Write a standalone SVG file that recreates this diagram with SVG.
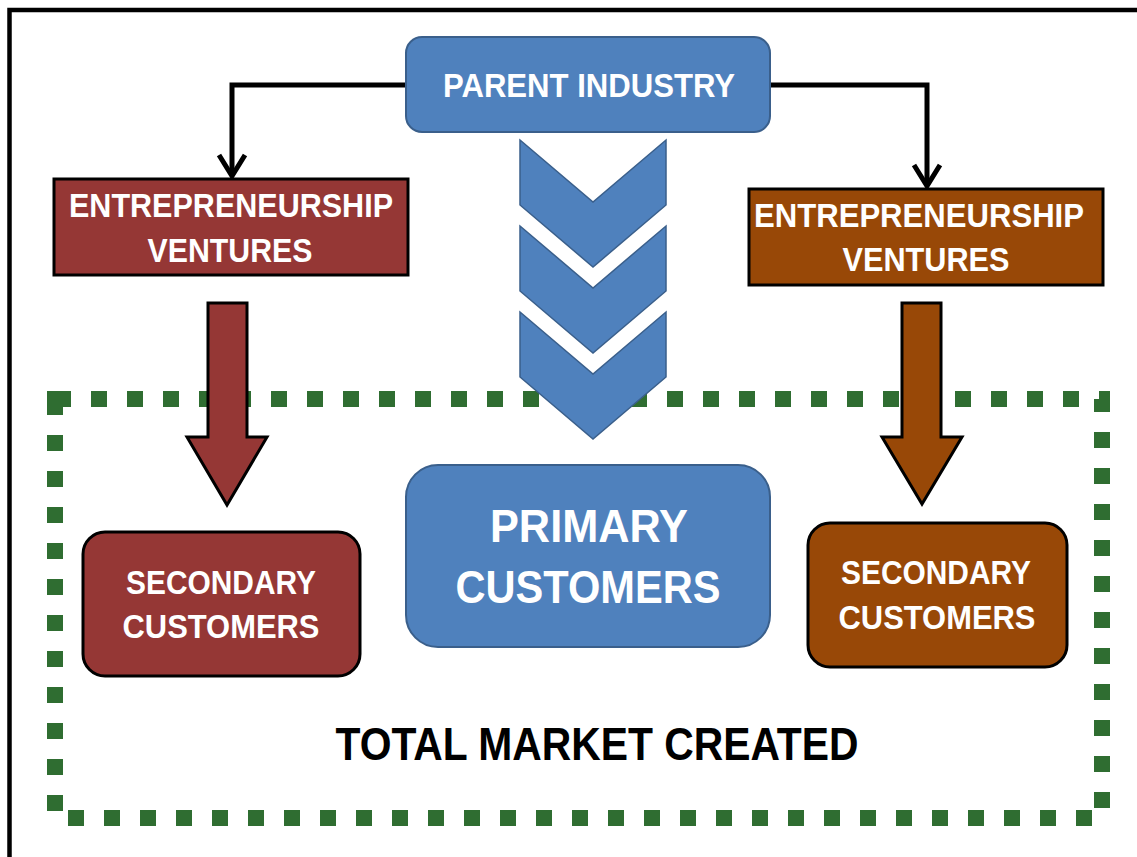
<svg xmlns="http://www.w3.org/2000/svg" width="1137" height="857" viewBox="0 0 1137 857">
<defs>
<style>
.t{font-family:"Liberation Sans",Arial,sans-serif;font-weight:bold;fill:#ffffff;text-anchor:middle}
.tb{font-family:"Liberation Sans",Arial,sans-serif;font-weight:bold;fill:#000000;text-anchor:middle}
.blue{fill:#4F81BD;stroke:#3A5F8B;stroke-width:2}
.red{fill:#953735;stroke:#000;stroke-width:3}
.brown{fill:#984807;stroke:#000;stroke-width:3}
.conn{fill:none;stroke:#000;stroke-width:5}
.chev{fill:#4F81BD;stroke:#3A5F8B;stroke-width:1.5}
</style>
</defs>
<rect x="0" y="0" width="1137" height="857" fill="#ffffff"/>
<rect id="frame" x="9.5" y="10" width="1140" height="860" fill="none" stroke="#000" stroke-width="4.5"/>

<g id="total-market">
<rect x="55" y="399" width="1047" height="419" fill="none" stroke="#2F6D31" stroke-width="16" stroke-dasharray="16 20"/>
<text class="tb" x="597" y="760" font-size="46" textLength="523" lengthAdjust="spacingAndGlyphs">TOTAL MARKET CREATED</text>
</g>

<g id="chevrons">
<polygon class="chev" points="520,140 593,202 666,140 666,205 593,267 520,205"/>
<polygon class="chev" points="520,226 593,288 666,226 666,291 593,353 520,291"/>
<polygon class="chev" points="520,312 593,374 666,312 666,377 593,439 520,377"/>
</g>

<g id="connectors">
<path class="conn" d="M406,85 H232 V175"/>
<polyline class="conn" points="219,155 232,176 245,155"/>
<path class="conn" d="M770,85 H927 V186"/>
<polyline class="conn" points="914,165 927,186 940,165"/>
<polygon id="arrow-left" fill="#953735" stroke="#000" stroke-width="3" points="208,303 247,303 247,437 267,437 227,505 187,437 208,437"/>
<polygon id="arrow-right" fill="#984807" stroke="#000" stroke-width="3" points="902,303 941,303 941,437 962,437 922,504 882,437 902,437"/>
</g>

<g id="parent-industry">
<rect class="blue" x="406" y="37" width="364" height="95" rx="16"/>
<text class="t" x="589" y="97" font-size="33.5" textLength="292" lengthAdjust="spacingAndGlyphs">PARENT INDUSTRY</text>
</g>

<g id="ventures-left">
<rect class="red" x="54" y="179" width="354" height="96"/>
<text class="t" x="231" y="217" font-size="33.5" textLength="324" lengthAdjust="spacingAndGlyphs">ENTREPRENEURSHIP</text>
<text class="t" x="230" y="262" font-size="33.5" textLength="165" lengthAdjust="spacingAndGlyphs">VENTURES</text>
</g>

<g id="ventures-right">
<rect class="brown" x="749" y="189" width="354" height="96"/>
<text class="t" x="919" y="227" font-size="33" textLength="330" lengthAdjust="spacingAndGlyphs">ENTREPRENEURSHIP</text>
<text class="t" x="926" y="271" font-size="33" textLength="167" lengthAdjust="spacingAndGlyphs">VENTURES</text>
</g>

<g id="secondary-left">
<rect class="red" x="83" y="532" width="277" height="144" rx="22"/>
<text class="t" x="221" y="594" font-size="33.5" textLength="190" lengthAdjust="spacingAndGlyphs">SECONDARY</text>
<text class="t" x="221" y="638" font-size="33.5" textLength="197" lengthAdjust="spacingAndGlyphs">CUSTOMERS</text>
</g>

<g id="primary-customers">
<rect class="blue" x="406" y="465" width="364" height="182" rx="32"/>
<text class="t" x="589" y="542" font-size="46" textLength="198" lengthAdjust="spacingAndGlyphs">PRIMARY</text>
<text class="t" x="588" y="603" font-size="46" textLength="265" lengthAdjust="spacingAndGlyphs">CUSTOMERS</text>
</g>

<g id="secondary-right">
<rect class="brown" x="808" y="523" width="259" height="144" rx="22"/>
<text class="t" x="936" y="584" font-size="33" textLength="190" lengthAdjust="spacingAndGlyphs">SECONDARY</text>
<text class="t" x="937" y="629" font-size="33" textLength="197" lengthAdjust="spacingAndGlyphs">CUSTOMERS</text>
</g>
</svg>
